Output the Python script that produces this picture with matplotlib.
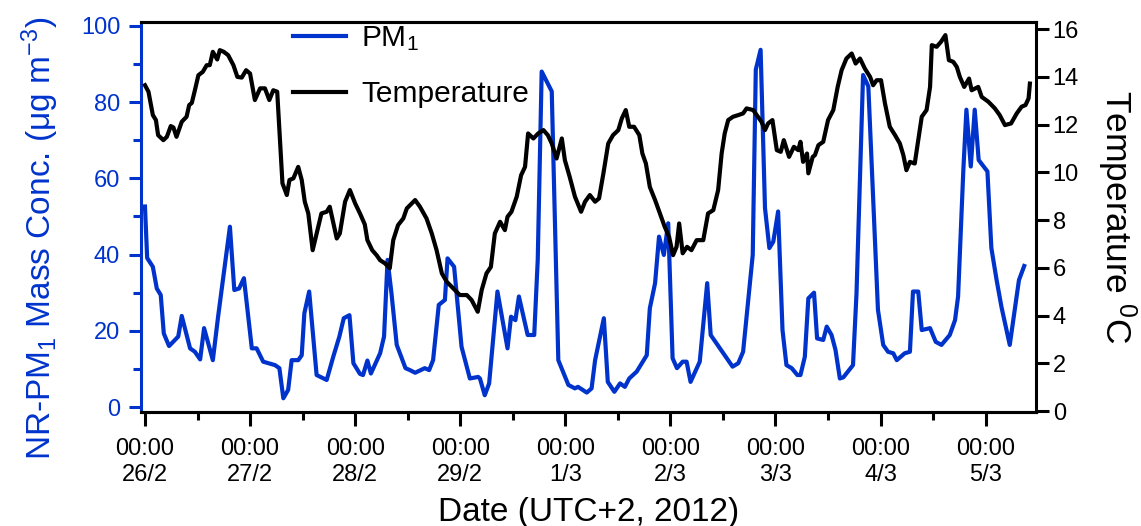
import matplotlib
matplotlib.use('Agg')
import matplotlib.pyplot as plt
import matplotlib.dates as mdates
import pandas as pd

plt.rcParams['font.family'] = ['Liberation Sans', 'DejaVu Sans']
plt.rcParams['mathtext.fontset'] = 'custom'
plt.rcParams['mathtext.rm'] = 'Liberation Sans'
plt.rcParams['mathtext.it'] = 'Liberation Sans'

start = pd.Timestamp('2012-02-26 00:00')

# PM1 (hours after 26/2 00:00, ug m-3)
pm_hours = [0.0, 0.5, 1.8, 2.7, 3.6, 4.3, 5.5, 7.6, 8.4, 10.3, 11.4, 12.6, 13.5, 15.5, 16.7,
            19.4, 20.4, 21.5, 22.6, 24.4, 25.5, 27.0, 29.7, 30.7, 31.6, 32.7, 33.5, 35.0, 35.8,
            36.4, 37.5, 39.2, 41.5, 43.0, 44.4, 45.4, 46.7, 47.6, 49.1, 49.8, 50.8, 51.6, 53.7,
            54.6, 55.4, 56.3, 57.5, 59.5, 60.5, 61.7, 63.9, 64.9, 65.8, 67.1, 68.5, 69.1, 70.6,
            72.3, 74.2, 76.1, 76.5, 77.6, 78.6, 80.5, 82.8, 83.6, 84.6, 85.4, 87.4, 88.9, 89.7,
            90.6, 92.9, 94.4, 96.7, 98.2, 98.9, 100.9, 102.0, 102.8, 104.8, 105.7, 107.2, 108.5,
            109.6, 110.6, 112.3, 114.6, 115.3, 116.5, 117.4, 118.5, 119.5, 120.5, 121.5, 122.8,
            123.7, 124.6, 126.7, 128.4, 129.2, 134.2, 135.5, 136.6, 138.8, 139.5, 140.6, 141.6,
            142.6, 143.5, 144.6, 145.6, 146.5, 147.7, 149.0, 149.7, 150.7, 151.5, 152.8, 153.5,
            154.9, 155.7, 156.8, 157.7, 158.7, 159.5, 161.7, 162.5, 164.0, 165.2, 166.5, 167.4,
            168.6, 169.7, 170.9, 171.7, 173.5, 174.7, 175.4, 176.6, 177.4, 179.3, 180.6, 181.9,
            183.8, 185.0, 185.7, 186.9, 187.6, 188.6, 189.5, 190.4, 192.4, 193.3, 194.5, 195.6,
            197.5, 199.6, 200.8]
pm1 = [52.6, 39.1, 36.8, 31.1, 29.4, 19.3, 16.0, 18.5, 23.9, 15.4, 14.5, 12.5, 20.7, 12.3, 23.7,
       47.3, 30.7, 31.1, 33.8, 15.4, 15.4, 11.9, 11.0, 10.2, 2.3, 4.5, 12.3, 12.3, 13.6,
       24.6, 30.3, 8.4, 7.1, 13.2, 18.5, 23.3, 24.1, 11.5, 8.7, 8.4, 12.2, 8.8, 14.1,
       18.5, 38.6, 29.8, 16.3, 10.2, 9.7, 9.0, 10.2, 9.7, 12.3, 26.8, 28.1, 39.0, 36.8,
       15.8, 7.5, 7.9, 7.5, 3.1, 6.2, 30.3, 15.4, 23.7, 22.8, 29.0, 18.9, 18.9, 38.6,
       88.0, 82.8, 12.3, 5.8, 4.9, 5.3, 3.8, 4.9, 12.3, 23.3, 6.6, 4.0, 6.2,
       5.3, 7.5, 9.3, 13.6, 25.9, 32.5, 44.7, 39.9, 48.2, 12.8, 10.2, 11.9,
       11.9, 6.6, 11.9, 32.5, 18.9, 10.6, 11.5, 14.5, 39.9, 88.5, 93.7, 52.2,
       41.7, 43.4, 51.3, 20.2, 11.0, 10.2, 8.4, 8.4, 13.2, 28.5, 30.0, 18.0,
       17.6, 21.1, 18.9, 15.0, 7.5, 7.8, 11.0, 29.8, 87.1, 84.1, 49.1, 25.5,
       16.3, 14.5, 14.1, 12.3, 14.1, 14.5, 30.3, 30.3, 20.2, 20.7, 17.1, 16.3,
       18.9, 22.8, 29.0, 62.2, 78.0, 63.1, 78.0, 64.8, 61.8, 41.7, 33.3, 26.3,
       16.3, 33.3, 37.0]

# temperature (hours after 26/2 00:00, deg C)
t_hours = [0.0, 0.8, 1.8, 2.5, 3.0, 4.2, 5.0, 5.9, 6.5, 7.2, 8.4, 9.5, 10.1, 10.7, 11.4, 12.2,
           13.2, 14.1, 14.8, 15.5, 16.5, 17.1, 18.0, 19.0, 20.2, 21.1, 22.1, 23.1, 24.0, 25.1,
           26.3, 27.4, 28.4, 29.3, 30.2, 30.8, 31.4, 32.4, 33.0, 33.9, 35.0, 35.8, 36.5, 37.3,
           38.3, 39.2, 40.3, 41.5, 42.2, 43.8, 44.5, 45.7, 46.8, 48.0, 49.1, 50.2, 50.8, 51.9,
           52.9, 53.7, 54.8, 55.9, 56.7, 57.8, 59.0, 59.8, 61.7, 62.8, 64.3, 65.5, 66.6, 67.8,
           68.9, 70.4, 71.9, 73.5, 74.6, 76.0, 76.9, 78.0, 79.0, 79.9, 81.1, 82.2, 82.8, 83.7,
           84.9, 85.9, 86.8, 87.5, 88.7, 89.8, 91.0, 92.0, 92.9, 94.0, 95.2, 95.9, 97.0, 98.2,
           99.6, 100.5, 101.6, 102.8, 103.7, 104.7, 105.8, 106.9, 108.1, 108.9, 109.8, 110.6,
           111.7, 112.9, 113.6, 114.4, 115.3, 116.5, 117.6, 118.7, 119.7, 120.6, 121.4, 122.0,
           122.8, 123.8, 124.8, 126.0, 127.5, 128.6, 129.8, 130.9, 131.7, 132.4, 133.2, 134.3,
           135.5, 136.6, 137.4, 138.9, 140.0, 140.8, 141.6, 142.3, 143.3, 144.3, 145.2, 145.9,
           147.1, 148.2, 149.2, 149.7, 150.3, 151.2, 151.5, 152.5, 153.0, 153.8, 154.9, 156.0,
           157.2, 158.2, 159.1, 160.2, 161.4, 162.3, 163.3, 164.4, 165.6, 166.3, 167.1, 168.1,
           169.0, 170.1, 171.3, 172.4, 173.2, 173.9, 174.7, 175.8, 176.7, 177.4, 178.5, 179.3,
           179.7, 180.8, 181.8, 182.8, 183.6, 184.6, 185.4, 186.1, 187.1, 188.2, 188.8, 190.3,
           191.1, 192.6, 194.1, 195.2, 196.4, 197.8, 199.1, 200.2, 201.1, 201.8, 202.1]
temp = [13.65, 13.38, 12.40, 12.19, 11.56, 11.35, 11.49, 11.94, 11.88, 11.49, 12.12, 12.33, 12.82,
        12.91, 13.44, 14.07, 14.21, 14.49, 14.49, 15.05, 14.73, 15.12, 15.05, 14.91, 14.49, 14.00,
        13.97, 14.28, 14.14, 13.03, 13.52, 13.52, 13.03, 13.44, 13.38, 11.49, 9.54, 9.05, 9.68,
        9.75, 10.23, 9.68, 8.77, 8.28, 6.74, 7.44, 8.28, 8.35, 8.56, 7.23, 7.44, 8.77, 9.26,
        8.70, 8.28, 7.82, 7.16, 6.74, 6.53, 6.32, 6.19, 5.98, 7.16, 7.79, 8.07, 8.49, 8.84,
        8.56, 8.07, 7.44, 6.74, 5.77, 5.42, 5.14, 4.86, 4.86, 4.65, 4.16, 5.07, 5.77, 6.04,
        7.44, 7.93, 7.58, 8.14, 8.35, 8.98, 9.88, 10.23, 11.63, 11.42, 11.63, 11.77, 11.56,
        11.21, 10.58, 11.42, 10.51, 9.81, 8.98, 8.35, 8.77, 9.05, 8.77, 8.91, 9.96, 11.21,
        11.56, 11.77, 12.26, 12.61, 11.91, 11.91, 11.56, 10.79, 10.37, 9.39, 8.84, 8.28, 7.72,
        7.30, 6.53, 6.88, 7.86, 6.61, 6.88, 6.74, 7.16, 7.16, 8.28, 8.42, 9.26, 10.79, 11.63,
        12.19, 12.33, 12.40, 12.47, 12.68, 12.61, 12.33, 12.12, 11.77, 12.05, 12.19, 10.93,
        10.86, 11.35, 10.65, 11.07, 10.93, 11.28, 10.44, 10.79, 9.96, 10.65, 10.72, 11.14,
        11.28, 12.19, 12.61, 13.58, 14.28, 14.77, 14.98, 14.56, 14.77, 14.35, 14.00, 13.65,
        13.86, 13.86, 12.89, 11.91, 11.56, 11.21, 10.72, 10.09, 10.44, 10.37, 11.49, 12.33,
        12.61, 13.58, 15.33, 15.26, 15.47, 15.75, 14.70, 14.63, 14.42, 14.00, 13.58, 13.93,
        13.44, 13.58, 13.16, 12.96, 12.68, 12.40, 11.98, 12.05, 12.47, 12.75, 12.82, 13.10,
        13.72]

day_labels = ['26/2', '27/2', '28/2', '29/2', '1/3', '2/3', '3/3', '4/3', '5/3']

blue = '#0033cc'

pm_time = start + pd.to_timedelta(pm_hours, unit='h')
t_time = start + pd.to_timedelta(t_hours, unit='h')

fig = plt.figure(figsize=(11.41, 5.26), dpi=100)
ax = fig.add_axes([0.1236, 0.2167, 0.7844, 0.7415])
ax2 = ax.twinx()

l1, = ax.plot(pm_time, pm1, color=blue, lw=3, label='PM$_1$')
l2, = ax2.plot(t_time, temp, color='black', lw=3, label='Temperature')

ax.set_xlim(start - pd.Timedelta(hours=0.9), start + pd.Timedelta(hours=203.5))
ax.set_ylim(-1.3, 101)
ax2.set_ylim(-0.04, 16.3)

# x ticks
ticks = [start + pd.Timedelta(days=i) for i in range(len(day_labels))]
ax.set_xticks(ticks)
ax.set_xticklabels(['00:00\n' + d for d in day_labels])
ax.xaxis.set_minor_locator(mdates.HourLocator(byhour=[12]))

ax.set_yticks(range(0, 101, 20))
ax.set_yticks(range(10, 100, 20), minor=True)
ax2.set_yticks(range(0, 17, 2))

for s in ['top', 'bottom', 'left', 'right']:
    ax.spines[s].set_linewidth(2.2)
    ax2.spines[s].set_linewidth(2.2)
ax.spines['left'].set_color(blue)
ax.spines['right'].set_visible(False)
ax2.spines['left'].set_visible(False)

ax.tick_params(axis='x', which='major', length=10, width=2.2, labelsize=17, pad=9, colors='black')
ax.tick_params(axis='x', which='minor', length=6, width=2.2)
ax.tick_params(axis='y', which='major', length=9, width=2.2, labelsize=17, pad=6, colors=blue)
ax.tick_params(axis='y', which='minor', length=6, width=2.2, colors=blue)
ax2.tick_params(axis='y', which='major', length=9, width=2.2, labelsize=17, pad=3)

ax.set_xlabel('Date (UTC+2, 2012)', fontsize=24, labelpad=8)
ax.set_ylabel('NR-PM$_1$ Mass Conc. (μg m$^{-3}$)', fontsize=24, color=blue)
ax.yaxis.set_label_coords(-0.089, 0.446)
ax2.set_ylabel('Temperature $^0$C', fontsize=25.5, rotation=270)
ax2.yaxis.set_label_coords(1.115, 0.5)

ax2.legend([l1, l2], ['PM$_1$', 'Temperature'], loc='upper left', bbox_to_anchor=(0.14, 1.063),
           frameon=False, fontsize=21.5, handlelength=1.77, handletextpad=0.5, labelspacing=0.9)

fig.savefig('out.png', dpi=100)
